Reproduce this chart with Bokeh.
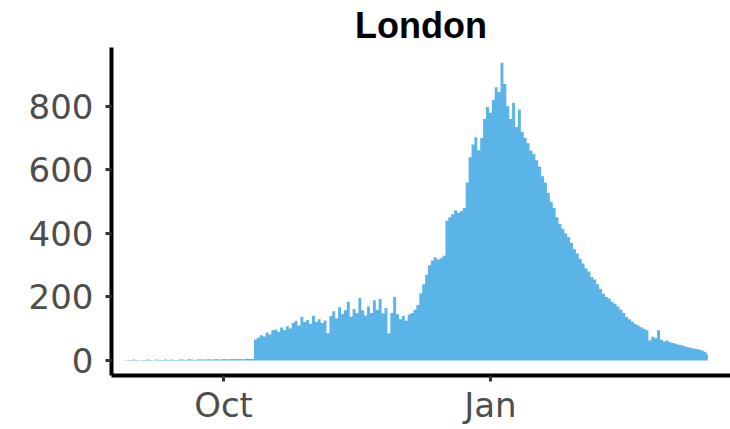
import pandas as pd
from bokeh.plotting import figure
from bokeh.models import Range1d, FixedTicker, DatetimeTickFormatter, ColumnDataSource
from bokeh.embed import file_html
from bokeh.resources import INLINE

# ---- data (daily values) ----
title_text = "London"
start_date = "2020-08-28"
aug = [2, 1, 2, 3]
sep = [2, 1, 2, 2, 3, 2, 1, 3, 2, 2, 3, 2, 3, 2, 2, 3, 3, 2, 4, 3,
       2, 3, 4, 3, 3, 4, 3, 4, 4, 3]
oct_ = [5, 4, 4, 5, 4, 5, 5, 4, 6, 5, 5,
        66, 72, 80, 76, 88, 82, 95, 98, 90, 104, 96, 108, 101,
        118, 125, 110, 137, 121, 128, 116]
nov = [140, 122, 130, 118, 126, 86,
       140, 155, 132, 168, 146, 158, 185, 138, 162, 150, 197, 158, 142, 170,
       150, 190, 160, 194, 148, 165, 86, 150, 200, 146]
dec = [130, 140, 125, 145, 150, 160, 175, 211, 240, 270, 300, 315, 325, 318,
       322, 330, 440, 451, 460, 473, 465, 470, 480, 560, 640, 680, 703, 662,
       700, 760, 798]
jan = [780, 820, 860, 845, 937, 870, 800, 760, 811, 735, 790, 720, 700,
       684, 660, 650, 630, 610, 580, 560, 527, 500, 480, 451, 430, 415, 400,
       388, 370, 350, 337]
feb = [320, 305, 290, 280, 263, 255, 240, 225, 210, 200, 195, 185, 179, 170,
       160, 150, 137, 130, 122, 115, 110, 105, 100, 95, 63, 75, 70, 95]
mar = [65, 60, 63, 58, 55, 53, 50, 48, 45, 42, 40, 38, 36, 35, 32, 28, 20]

x_tick_dates = ["2020-10-01", "2021-01-01"]
x_tick_labels = ["Oct", "Jan"]
y_ticks = [0, 200, 400, 600, 800]
x_limits = ["2020-08-23 09:00", "2021-03-24 19:00"]
y_limits = [-47, 985]

values = aug + sep + oct_ + nov + dec + jan + feb + mar
dates = pd.date_range(start_date, periods=len(values), freq="D")
src = ColumnDataSource(dict(date=dates, value=values,
                            base=[0] * len(values)))

BAR = "#5AB4E8"

p = figure(width=730, height=429, x_axis_type="datetime",
           output_backend="svg", toolbar_location=None,
           x_range=Range1d(pd.Timestamp(x_limits[0]), pd.Timestamp(x_limits[1])),
           y_range=Range1d(*y_limits),
           min_border_left=111, min_border_right=0, min_border_top=0,
           min_border_bottom=54)

p.varea_step(x="date", y1="base", y2="value", step_mode="center",
             source=src, fill_color=BAR)

p.title.text = title_text
p.title.text_font = "Liberation Sans"
p.title.text_font_style = "bold"
p.title.text_font_size = "36px"
p.title.text_color = "black"
p.title.align = "center"
p.title.offset = 6
p.title.standoff = 4

p.xgrid.visible = False
p.ygrid.visible = False
p.outline_line_color = None
p.background_fill_color = "white"
p.border_fill_color = "white"

tick_ms = [pd.Timestamp(d).value / 1e6 for d in x_tick_dates]
p.xaxis.ticker = FixedTicker(ticks=tick_ms)
p.xaxis.formatter = DatetimeTickFormatter(
    milliseconds="%b", seconds="%b", minsec="%b", minutes="%b", hourmin="%b",
    hours="%b", days="%b", months="%b", years="%b")
p.xaxis.major_label_overrides = {t: lab for t, lab in zip(tick_ms, x_tick_labels)}
p.yaxis.ticker = FixedTicker(ticks=y_ticks)

for ax in (p.xaxis[0], p.yaxis[0]):
    ax.axis_line_color = "black"
    ax.axis_line_width = 4
    ax.major_tick_line_color = "#333333"
    ax.major_tick_line_width = 3
    ax.major_tick_out = 6
    ax.major_tick_in = 0
    ax.minor_tick_line_color = None
    ax.major_label_text_font = "DejaVu Sans"
    ax.major_label_text_font_size = "34px"
    ax.major_label_text_color = "#4D4D4D"
p.yaxis.major_label_standoff = 12
p.xaxis.major_label_standoff = 3

open("out.html", "w").write(file_html(p, INLINE))
